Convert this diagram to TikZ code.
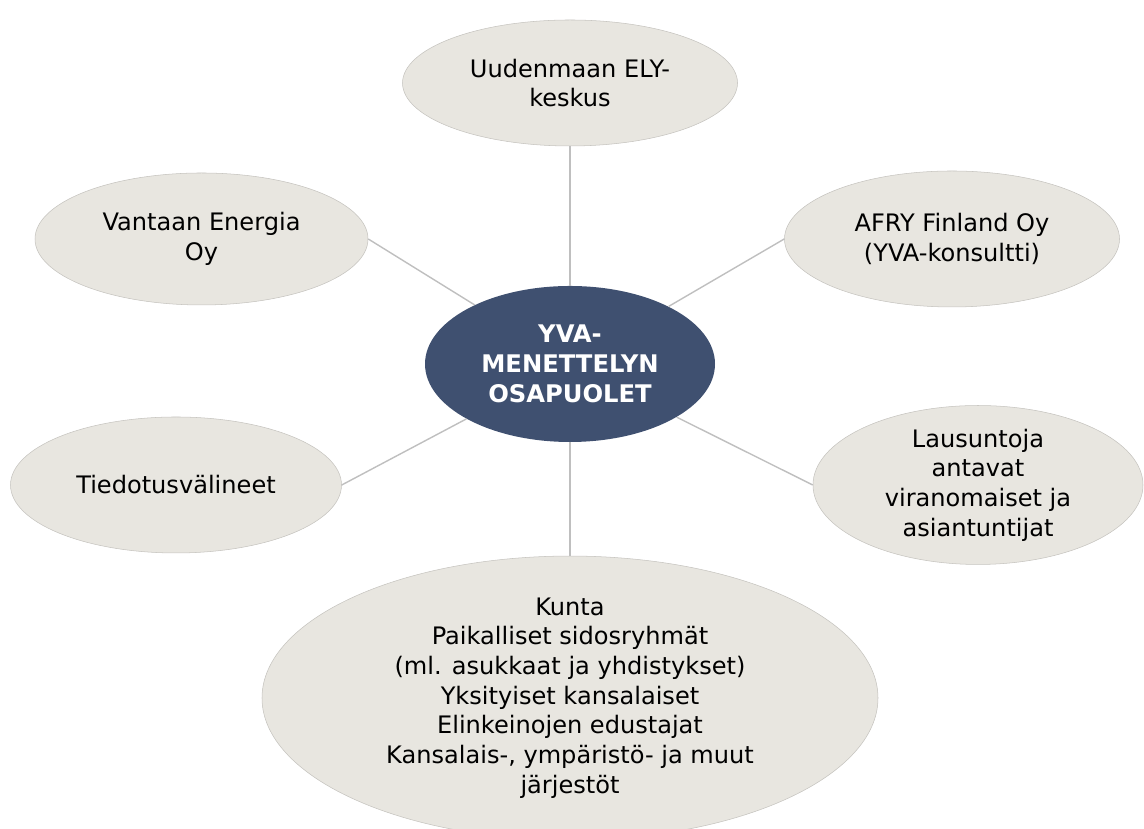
\documentclass[tikz,border=0pt]{standalone}
\usepackage{fontspec}
\setmainfont{DejaVu Sans}
\usepackage{xcolor}
\usetikzlibrary{shapes}
\definecolor{beige}{HTML}{E8E6E0}
\definecolor{navy}{HTML}{3F5070}
\definecolor{linegray}{HTML}{BFBFBF}

\begin{document}
\begin{tikzpicture}[
  party/.style={ellipse, fill=beige, draw=beige!85!black, line width=0.3pt, inner sep=0pt,
    align=center, font=\fontsize{13.7}{16.9}\selectfont},
  core/.style={ellipse, fill=navy, inner sep=0pt, align=center, text=white,
    font=\fontsize{13.8}{16.9}\selectfont\bfseries},
  link/.style={draw=linegray, line width=0.8pt}]
\useasboundingbox (0,0) rectangle (22.88,16.58);
\node [core, minimum width=5.8cm, minimum height=3.12cm] (ctr) at (11.4,9.3) {YVA-\\MENETTELYN\\OSAPUOLET};
\node [party, minimum width=6.7cm, minimum height=2.52cm] (ely) at (11.4,14.92) {Uudenmaan ELY-\\keskus};
\node [party, minimum width=6.66cm, minimum height=2.64cm] (van) at (4.03,11.8) {Vantaan Energia\\Oy};
\node [party, minimum width=6.7cm, minimum height=2.72cm] (afry) at (19.04,11.8) {AFRY Finland Oy\\(YVA-konsultti)};
\node [party, minimum width=6.62cm, minimum height=2.72cm] (media) at (3.52,6.88) {Tiedotusvälineet};
\node [party, minimum width=6.6cm, minimum height=2.76cm] (laus) at (19.56,6.88) {Lausuntoja\\antavat\\viranomaiset ja\\asiantuntijat};
\node [party, minimum width=12.32cm, minimum height=5.24cm] (kunta) at (11.4,2.62) {Kunta\\Paikalliset sidosryhmät\\(ml. asukkaat ja yhdistykset)\\Yksityiset kansalaiset\\Elinkeinojen edustajat\\Kansalais-, ympäristö- ja muut\\järjestöt};
% connectors
\draw [link] (ctr) -- (ely.south);
\draw [link] (ctr) -- (van.east);
\draw [link] (ctr) -- (afry.west);
\draw [link] (ctr) -- (media.east);
\draw [link] (ctr) -- (laus.west);
\draw [link] (ctr) -- (kunta.north);
\end{tikzpicture}
\end{document}
